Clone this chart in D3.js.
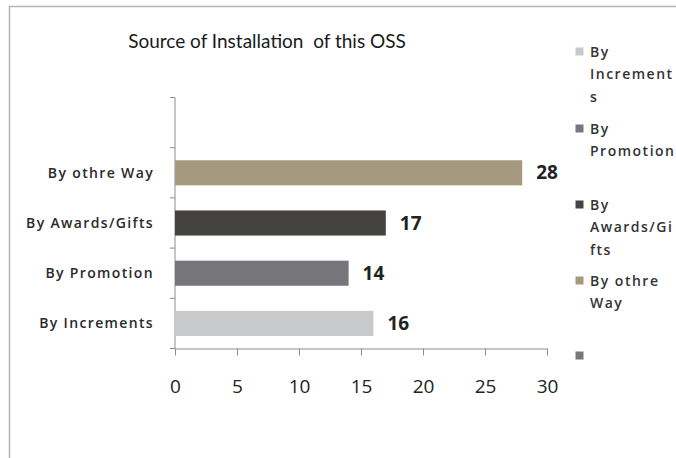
<!DOCTYPE html>
<html><head><meta charset="utf-8">
<script src="https://cdn.jsdelivr.net/npm/d3@7"></script>
<style>body{margin:0;background:#fff}svg{display:block}text{font-family:"Open Sans",sans-serif}</style>
</head><body><svg id="c" width="676" height="458"></svg>
<script>
const categories = ["By Increments", "By Promotion", "By Awards/Gifts", "By othre Way", ""];
const values = [16, 14, 17, 28, null];
const colors = ["#c8c9ca", "#77777b", "#444341", "#a59a80", "#77777b"];
const xTicks = [0, 5, 10, 15, 20, 25, 30];
const legendLines = [["By", "Increment", "s"], ["By", "Promotion"], ["By", "Awards/Gi", "fts"], ["By othre", "Way"], [""]];
const title = "Source of Installation  of this OSS";

const svg = d3.select("#c");
// frame
svg.append("path").attr("d", "M9.5,458 V6.5 H676").attr("fill", "none").attr("stroke", "#b5b5b5").attr("stroke-width", 1.5);

const x = d3.scaleLinear().domain([0, 30]).range([175, 547]);
const y = d3.scaleBand().domain(categories.map((d, i) => i)).range([348.5, 97.5]).paddingInner(0.5).paddingOuter(0.25);

svg.append("text").attr("x", 267).attr("y", 48).attr("text-anchor", "middle")
  .style("white-space", "pre").style("font-family", "Lato,sans-serif")
  .attr("font-size", 19).attr("fill", "#1a1a1a").text(title);

// y axis
const ya = svg.append("g").attr("transform", "translate(175,0)");
ya.append("line").attr("y1", 97.5).attr("y2", 348.5).attr("stroke", "#8c8c8c");
const step = y.step();
categories.forEach((c, i) => {
  const t = y(i) - step * 0.25;
  ya.append("line").attr("x1", -5).attr("x2", 0).attr("y1", t).attr("y2", t).attr("stroke", "#8c8c8c");
});
ya.append("line").attr("x1", -5).attr("x2", 0).attr("y1", 348.5).attr("y2", 348.5).attr("stroke", "#8c8c8c");
categories.forEach((c, i) => {
  svg.append("text").attr("x", 154).attr("y", y(i) + y.bandwidth() / 2).attr("dy", "0.35em")
    .attr("text-anchor", "end").attr("font-size", 14).attr("font-weight", 600).attr("letter-spacing", 1.35)
    .attr("fill", "#2a2a2a").text(c);
});

// x axis
const xa = svg.append("g").attr("transform", "translate(0,348.5)")
  .call(d3.axisBottom(x).tickValues(xTicks).tickSize(7).tickPadding(24).tickSizeOuter(0));
xa.select(".domain").attr("stroke", "#8c8c8c");
xa.selectAll(".tick line").attr("stroke", "#8c8c8c");
xa.selectAll("text").attr("font-size", 19).attr("fill", "#222").attr("font-family", "'Open Sans',sans-serif");

// bars
const data = categories.map((c, i) => ({c, v: values[i], col: colors[i], i})).filter(d => d.v != null);
svg.selectAll("rect.bar").data(data).join("rect").attr("class", "bar")
  .attr("x", x(0)).attr("y", d => y(d.i)).attr("width", d => x(d.v) - x(0)).attr("height", y.bandwidth())
  .attr("fill", d => d.col);
svg.selectAll("text.lbl").data(data).join("text").attr("class", "lbl")
  .attr("x", d => x(d.v) + 14).attr("y", d => y(d.i) + y.bandwidth() / 2).attr("dy", "0.35em")
  .attr("font-size", 19).attr("font-weight", "bold").attr("fill", "#222").text(d => d.v);

// legend
const legTop = [52, 129, 205, 281, 356];
legendLines.forEach((lines, i) => {
  svg.append("rect").attr("x", 575.5).attr("y", legTop[i] - 4.5).attr("width", 8).attr("height", 8).attr("fill", colors[i]);
  lines.forEach((ln, j) => {
    svg.append("text").attr("x", 590).attr("y", legTop[i] + j * 22.5).attr("dy", "0.35em")
      .attr("font-size", 14).attr("font-weight", 600).attr("letter-spacing", 1.5).attr("fill", "#333").text(ln);
  });
});
</script></body></html>
